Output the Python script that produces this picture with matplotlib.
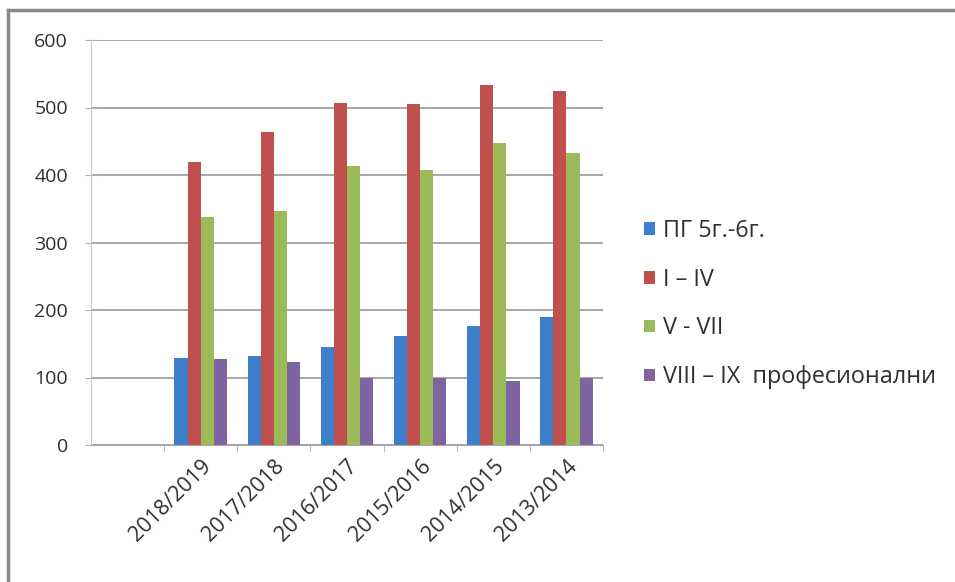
import numpy as np
import matplotlib
matplotlib.use("Agg")
import matplotlib.pyplot as plt
from matplotlib.lines import Line2D

plt.rcParams['font.family'] = ['Open Sans', 'DejaVu Sans']

years = ["2018/2019", "2017/2018", "2016/2017", "2015/2016", "2014/2015", "2013/2014"]
pg = [129, 132, 145, 161, 177, 189]
i_iv = [420, 463, 507, 505, 533, 525]
v_vii = [338, 346, 413, 407, 447, 433]
viii_ix = [128, 123, 99, 99, 95, 99]

series_names = ["ПГ 5г.-6г.", "I – IV", "V - VII", "VIII – IX  професионални"]
colors = ["#3D7FCB", "#C0504D", "#9BBB59", "#8064A2"]

fig = plt.figure(figsize=(9.55, 5.82), dpi=100)
ax = fig.add_axes([91/955, 1 - 445/582, 512/955, 405/582])

x = np.arange(len(years))
w = 0.18
all_series = [pg, i_iv, v_vii, viii_ix]
handles = []
for k, vals in enumerate(all_series):
    b = ax.bar(x + (k - 1.5) * w, vals, width=w, color=colors[k], label=series_names[k], zorder=3)
    handles.append(b)

ax.set_xlim(-1.5, 5.5)
ax.set_ylim(0, 600)
ax.set_yticks(range(0, 601, 100))
ax.yaxis.grid(True, color="#a0a0a0", linewidth=1.3, zorder=0)

ax.set_xticks(x)
ax.set_xticklabels(years, rotation=45, ha="right", rotation_mode="anchor", fontsize=15.5, color="#303030")
ax.set_xticks(np.arange(-0.5, 6, 1), minor=True)
ax.tick_params(axis="x", which="major", length=0, pad=8)
ax.tick_params(axis="x", which="minor", length=5, color="#b0b0b0")
ax.tick_params(axis="y", direction="inout", length=9, color="#b0b0b0", labelsize=14,
               labelcolor="#303030", pad=12)

for s in ["top", "right"]:
    ax.spines[s].set_visible(False)
ax.spines["left"].set_color("#c8c8c8")
ax.spines["bottom"].set_color("#a8a8a8")

leg = fig.legend(handles=handles, loc="upper left", bbox_to_anchor=(644/955, 1 - 219/582),
                 frameon=False, fontsize=16.8, labelspacing=1.06, handlelength=0.45,
                 handleheight=0.45, handletextpad=0.35, borderaxespad=0, borderpad=0)
for t in leg.get_texts():
    t.set_color("#303030")

# outer frame: top and left edges
fig.add_artist(Line2D([8/955, 1], [1 - 10/582, 1 - 10/582], transform=fig.transFigure,
                      color="#8a8a8a", linewidth=2.5))
fig.add_artist(Line2D([8/955, 8/955], [0, 1 - 10/582], transform=fig.transFigure,
                      color="#8a8a8a", linewidth=2.5))

fig.savefig("out.png", dpi=100)
